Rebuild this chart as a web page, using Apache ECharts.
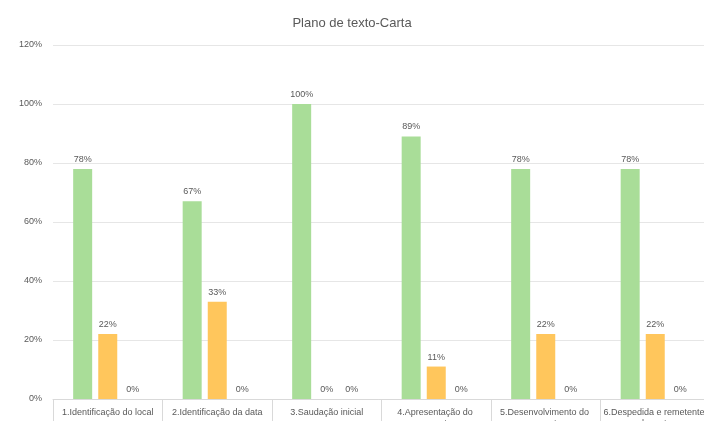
<!DOCTYPE html>
<html>
<head>
<meta charset="utf-8">
<script src="https://cdn.jsdelivr.net/npm/echarts@6/dist/echarts.min.js"></script>
<style>html,body{margin:0;padding:0;background:#fff;}#c{width:704px;height:421px;}</style>
</head>
<body>
<div id="c"></div>
<script>
const categories = [
  "1.Identificação do local",
  "2.Identificação da data",
  "3.Saudação inicial",
  "4.Apresentação do assunto",
  "5.Desenvolvimento do assunto",
  "6.Despedida e remetente da carta"
];
const seriesA = [78, 67, 100, 89, 78, 78];
const seriesB = [22, 33, 0, 11, 22, 22];
const seriesC = [0, 0, 0, 0, 0, 0];
const yTicks = [0, 20, 40, 60, 80, 100, 120];

const font = "Liberation Sans";
const labelStyle = {show: true, position: 'top', formatter: p => p.value + '%', color: '#595959', fontSize: 9, fontFamily: font, distance: 5};

const chart = echarts.init(document.getElementById('c'));
chart.setOption({
  animation: false,
  title: {text: 'Plano de texto-Carta', left: 'center', top: 12, textStyle: {color: '#595959', fontSize: 13, fontWeight: 'normal', fontFamily: font}},
  grid: {left: 53, right: -6, top: 45, bottom: 22, containLabel: false, outerBoundsMode: 'none'},
  xAxis: {
    type: 'category', data: categories,
    axisLine: {lineStyle: {color: '#d9d9d9'}},
    axisTick: {show: true, length: 22, lineStyle: {color: '#d9d9d9'}},
    axisLabel: {color: '#595959', fontSize: 9, fontFamily: font, margin: 8, width: 104, overflow: 'break', lineHeight: 11, interval: 0}
  },
  yAxis: {
    type: 'value', min: 0, max: 120, interval: 20,
    axisLabel: {formatter: v => yTicks.includes(v) ? v + '%' : '', color: '#595959', fontSize: 9, fontFamily: font, margin: 11},
    splitLine: {lineStyle: {color: '#e6e6e6'}},
    axisLine: {show: false}, axisTick: {show: false}
  },
  series: [
    {type: 'bar', data: seriesA, barWidth: 19, barGap: '32%', itemStyle: {color: '#a9dd98'}, label: labelStyle},
    {type: 'bar', data: seriesB, barWidth: 19, barGap: '32%', itemStyle: {color: '#ffc65c'}, label: labelStyle},
    {type: 'bar', data: seriesC, barWidth: 19, barGap: '32%', itemStyle: {color: '#a5a5a5'}, label: labelStyle}
  ]
});
</script>
</body>
</html>
